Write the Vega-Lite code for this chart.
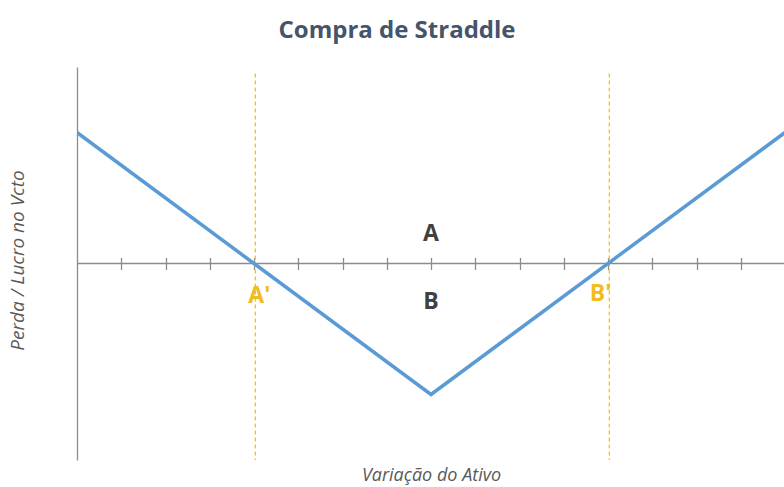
{
  "$schema": "https://vega.github.io/schema/vega-lite/v6.json",
  "autosize": "none",
  "width": 708,
  "height": 393,
  "padding": {"left": 77, "top": 67, "right": 0, "bottom": 27},
  "background": "white",
  "title": {
    "text": "Compra de Straddle",
    "font": "Open Sans",
    "fontSize": 24,
    "fontWeight": "bold",
    "color": "#44546A",
    "anchor": "middle",
    "frame": "group",
    "dx": -34,
    "offset": 24
  },
  "config": {"view": {"stroke": null}},
  "datasets": {
    "payoff": [
      {"variacao": 0, "resultado": 4},
      {"variacao": 8, "resultado": -4},
      {"variacao": 16, "resultado": 4}
    ],
    "breakeven": [
      {"variacao": 4.03, "topo": 5.8, "base": -6},
      {"variacao": 12.03, "topo": 5.8, "base": -6}
    ],
    "rotulos": [
      {"variacao": 8, "resultado": 0.9, "rotulo": "A", "tipo": "zona"},
      {"variacao": 8, "resultado": -1.17, "rotulo": "B", "tipo": "zona"},
      {"variacao": 4.12, "resultado": -0.98, "rotulo": "A'", "tipo": "ponto"},
      {"variacao": 11.83, "resultado": -0.93, "rotulo": "B'", "tipo": "ponto"}
    ],
    "zero": [{"resultado": 0}]
  },
  "layer": [
    {
      "data": {"name": "zero"},
      "mark": {"type": "rule", "color": "#8C8C8C", "strokeWidth": 1.3},
      "encoding": {
        "y": {"field": "resultado", "type": "quantitative", "scale": {"domain": [-6, 6]},
          "axis": {
            "title": "Perda / Lucro no Vcto",
            "titleFont": "Open Sans",
            "titleFontStyle": "italic",
            "titleFontWeight": "normal",
            "titleFontSize": 19,
            "titleColor": "#595959",
            "titleX": -60,
            "titleY": 193,
            "titleAlign": "center",
            "titleBaseline": "middle",
            "labels": false,
            "ticks": false,
            "grid": false,
            "domainColor": "#8C8C8C",
            "domainWidth": 1.3
          }
        }
      }
    },
    {
      "data": {"name": "breakeven"},
      "mark": {"type": "rule", "color": "#FFC000", "strokeWidth": 1.3, "strokeDash": [4, 3]},
      "encoding": {
        "x": {"field": "variacao", "type": "quantitative"},
        "y": {"field": "topo", "type": "quantitative"},
        "y2": {"field": "base"}
      }
    },
    {
      "data": {"name": "payoff"},
      "mark": {"type": "line", "color": "#5B9BD5", "strokeWidth": 3.5, "clip": true},
      "encoding": {
        "x": {"field": "variacao", "type": "quantitative",
          "scale": {"domain": [0, 16], "nice": false, "zero": false},
          "axis": {
            "orient": "bottom",
            "offset": -202.5,
            "values": [1, 2, 3, 4, 5, 6, 7, 8, 9, 10, 11, 12, 13, 14, 15],
            "tickSize": 12,
            "tickColor": "#8C8C8C",
            "tickWidth": 1.3,
            "labels": false,
            "domain": false,
            "grid": false,
            "title": "Variação do Ativo",
            "titleFont": "Open Sans",
            "titleFontStyle": "italic",
            "titleFontWeight": "normal",
            "titleFontSize": 18,
            "titleColor": "#595959",
            "titleY": 218,
            "titleBaseline": "middle"
          }
        },
        "y": {"field": "resultado", "type": "quantitative"}
      }
    },
    {
      "data": {"name": "rotulos"},
      "mark": {"type": "text", "font": "Open Sans", "fontSize": 23, "fontWeight": "bold", "baseline": "middle", "align": "center"},
      "encoding": {
        "x": {"field": "variacao", "type": "quantitative"},
        "y": {"field": "resultado", "type": "quantitative"},
        "text": {"field": "rotulo"},
        "color": {"field": "tipo", "type": "nominal",
          "scale": {"domain": ["zona", "ponto"], "range": ["#404040", "#F0BC1E"]},
          "legend": null}
      }
    }
  ]
}
